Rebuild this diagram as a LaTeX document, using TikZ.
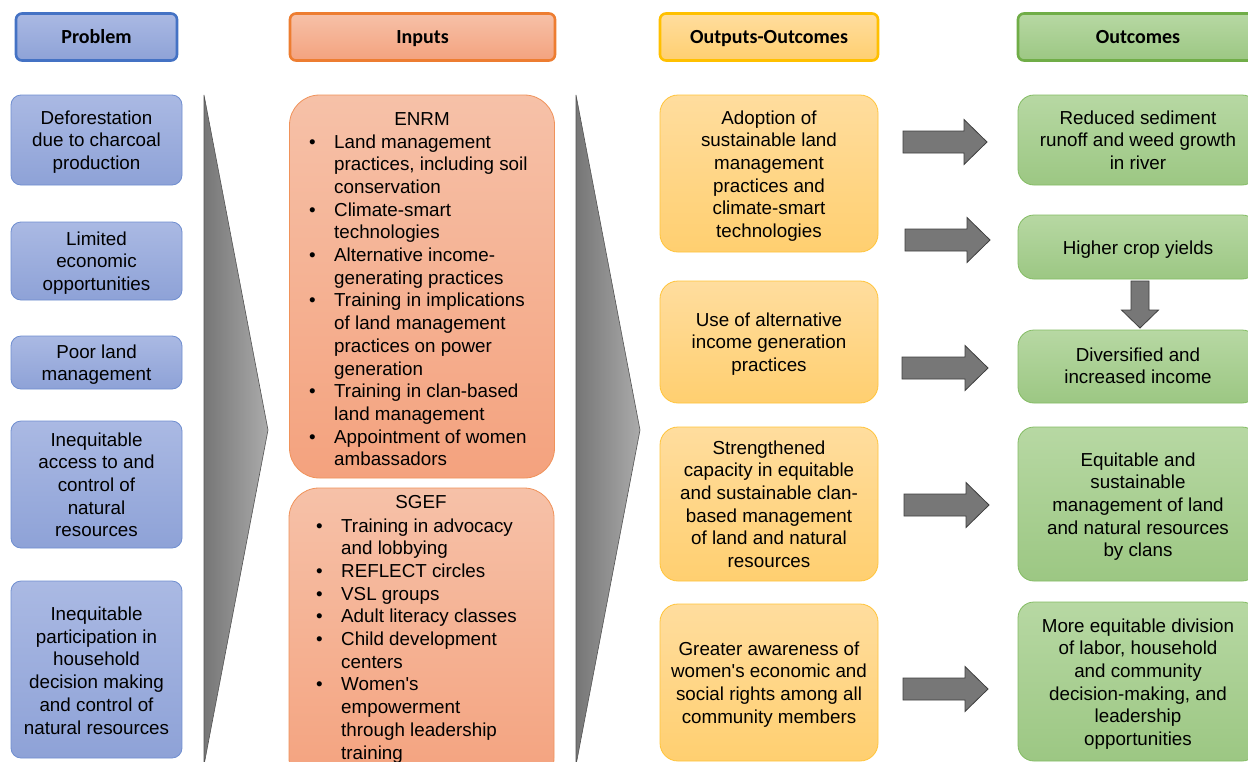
\documentclass[tikz,border=0pt]{standalone}
\usepackage{fontspec}
\setmainfont{Liberation Sans}
\newfontfamily\hdfont{Carlito}
\usetikzlibrary{calc}
\definecolor{pbT}{HTML}{AAB9E3}
\definecolor{pbB}{HTML}{8EA2D7}
\definecolor{pbD}{HTML}{6F8ED0}
\definecolor{pbH}{HTML}{4472C4}
\definecolor{inT}{HTML}{F6C1A8}
\definecolor{inB}{HTML}{F4A27E}
\definecolor{inD}{HTML}{F0925A}
\definecolor{inH}{HTML}{ED7D31}
\definecolor{ouT}{HTML}{FFDD9E}
\definecolor{ouB}{HTML}{FFCF70}
\definecolor{ouD}{HTML}{FFC43A}
\definecolor{ouH}{HTML}{FFC000}
\definecolor{ocT}{HTML}{B7D8A3}
\definecolor{ocB}{HTML}{9CC783}
\definecolor{ocD}{HTML}{84BC64}
\definecolor{ocH}{HTML}{70AD47}
\definecolor{arrG}{HTML}{777777}
\definecolor{arrD}{HTML}{3F3F3F}
\definecolor{chL}{HTML}{767676}
\definecolor{chR}{HTML}{ABABAB}
\newcommand\harrow[3]{%
  \draw[barrow] (#1,#3-11) -- (#2-23,#3-11) -- (#2-23,#3-22.5) -- (#2,#3)
    -- (#2-23,#3+22.5) -- (#2-23,#3+11) -- (#1,#3+11) -- cycle;}
\newcommand\bl[1]{\textbullet & #1}
\newcommand\apos{\textquotesingle}
\tikzset{
  box/.style={rectangle, inner sep=0pt, line width=0.8pt},
  pbox/.style={box, draw=pbD, top color=pbT, bottom color=pbB, rounded corners=10pt, minimum width=171pt},
  ibox/.style={box, draw=inD, top color=inT, bottom color=inB, rounded corners=30pt, minimum width=265pt},
  obox/.style={box, draw=ouD, top color=ouT, bottom color=ouB, rounded corners=18pt, minimum width=218pt},
  cbox/.style={box, draw=ocD, top color=ocT, bottom color=ocB, rounded corners=16pt, minimum width=240pt},
  hdr/.style={rectangle, line width=2.6pt, rounded corners=6pt, minimum height=47pt, inner sep=0pt,
     text height=15pt, text depth=2pt,
     font=\hdfont\bfseries\fontsize{20}{24}\selectfont},
  txt/.style={inner sep=0pt, anchor=base, font=\fontsize{18.8}{22.7}\selectfont, text=black},
  lst/.style={inner sep=0pt, anchor=base west, font=\fontsize{18.8}{22.7}\selectfont, text=black},
  barrow/.style={fill=arrG, draw=arrD, line width=0.8pt, line join=miter},
  chev/.style={left color=chL, right color=chR, draw=chL!70!black, line width=0.6pt}
}
\begin{document}
\begin{tikzpicture}[x=1pt,y=-1pt]
\useasboundingbox (0,0) rectangle (1248,761);
\clip (0,0) rectangle (1248,761);
\fill[white] (0,0) rectangle (1248,761);

% headers
\node[hdr, draw=pbH, top color=pbT, bottom color=pbB, minimum width=161pt] (hp) at (96.5,37) {Problem};
\node[hdr, draw=inH, top color=inT, bottom color=inB, minimum width=265pt] (hi) at (422.5,37) {Inputs};
\node[hdr, draw=ouH, top color=ouT, bottom color=ouB, minimum width=218pt] (ho) at (769,37) {Outputs-Outcomes};
\node[hdr, draw=ocH, top color=ocT, bottom color=ocB, minimum width=240pt] (hc) at (1138,37) {Outcomes};

% chevrons
\path[chev] (204,95) -- (268,430) -- (204,765) -- cycle;
\path[chev] (576,95) -- (640,430) -- (576,765) -- cycle;

% problem boxes
\node[pbox, minimum height=90pt] (p1) at (96.5,140) {};
\node[pbox, minimum height=78pt] (p2) at (96.5,261) {};
\node[pbox, minimum height=53pt] (p3) at (96.5,362.5) {};
\node[pbox, minimum height=127pt] (p4) at (96.5,484.5) {};
\node[pbox, minimum height=177pt] (p5) at (96.5,669.5) {};
\node[txt] (p1t) at (96.5,124) {\begin{tabular}[t]{@{}c@{}}Deforestation\\due to charcoal\\production\end{tabular}};
\node[txt] (p2t) at (96.5,245) {\begin{tabular}[t]{@{}c@{}}Limited\\economic\\opportunities\end{tabular}};
\node[txt] (p3t) at (96.5,358) {\begin{tabular}[t]{@{}c@{}}Poor land\\management\end{tabular}};
\node[txt] (p4t) at (96.5,446) {\begin{tabular}[t]{@{}c@{}}Inequitable\\access to and\\control of\\natural\\resources\end{tabular}};
\node[txt] (p5t) at (96.5,620.5) {\begin{tabular}[t]{@{}c@{}}Inequitable\\participation in\\household\\decision making\\and control of\\natural resources\end{tabular}};

% inputs boxes
\node[ibox, minimum height=383pt] (enrm) at (422,286.5) {};
\node[ibox, minimum height=300pt] (sgef) at (421.5,638) {};
\node[txt] (enrmt) at (422,125) {ENRM};
\node[lst] (enrml) at (309,148) {\begin{tabular}[t]{@{}p{25pt}@{}l@{}}
\bl{Land management}\\ & practices, including soil\\ & conservation\\
\bl{Climate-smart}\\ & technologies\\
\bl{Alternative income-}\\ & generating practices\\
\bl{Training in implications}\\ & of land management\\ & practices on power\\ & generation\\
\bl{Training in clan-based}\\ & land management\\
\bl{Appointment of women}\\ & ambassadors\end{tabular}};
\node[txt] (sgeft) at (421,508.5) {SGEF};
\node[lst] (sgefl) at (316,532) {\begin{tabular}[t]{@{}p{25pt}@{}l@{}}
\bl{Training in advocacy}\\ & and lobbying\\
\bl{REFLECT circles}\\
\bl{VSL groups}\\
\bl{Adult literacy classes}\\
\bl{Child development}\\ & centers\\
\bl{Women\apos s}\\ & empowerment\\ & through leadership\\ & training\end{tabular}};

% outputs boxes
\node[obox, minimum height=157pt] (o1) at (769,173.5) {};
\node[obox, minimum height=122pt] (o2) at (769,342) {};
\node[obox, minimum height=154pt] (o3) at (769,504) {};
\node[obox, minimum height=157pt] (o4) at (769,682.5) {};
\node[txt] (o1t) at (769,124) {\begin{tabular}[t]{@{}c@{}}Adoption of\\sustainable land\\management\\practices and\\climate-smart\\technologies\end{tabular}};
\node[txt] (o2t) at (769,326) {\begin{tabular}[t]{@{}c@{}}Use of alternative\\income generation\\practices\end{tabular}};
\node[txt] (o3t) at (769,454) {\begin{tabular}[t]{@{}c@{}}Strengthened\\capacity in equitable\\and sustainable clan-\\based management\\of land and natural\\resources\end{tabular}};
\node[txt] (o4t) at (769,655) {\begin{tabular}[t]{@{}c@{}}Greater awareness of\\women\apos s economic and\\social rights among all\\community members\end{tabular}};

% outcomes boxes
\node[cbox, minimum height=90pt] (c1) at (1138,140) {};
\node[cbox, minimum height=64pt] (c2) at (1138,247) {};
\node[cbox, minimum height=73pt] (c3) at (1138,366.5) {};
\node[cbox, minimum height=154pt] (c4) at (1138,504) {};
\node[cbox, minimum height=159pt] (c5) at (1138,681.5) {};
\node[txt] (c1t) at (1138,124) {\begin{tabular}[t]{@{}c@{}}Reduced sediment\\runoff and weed growth\\in river\end{tabular}};
\node[txt] (c2t) at (1138,254) {Higher crop yields};
\node[txt] (c3t) at (1138,361) {\begin{tabular}[t]{@{}c@{}}Diversified and\\increased income\end{tabular}};
\node[txt] (c4t) at (1138,466) {\begin{tabular}[t]{@{}c@{}}Equitable and\\sustainable\\management of land\\and natural resources\\by clans\end{tabular}};
\node[txt] (c5t) at (1138,632) {\begin{tabular}[t]{@{}c@{}}More equitable division\\of labor, household\\and community\\decision-making, and\\leadership\\opportunities\end{tabular}};

% block arrows
\harrow{903}{987}{142}
\harrow{905}{990}{240}
\harrow{902}{988}{368}
\harrow{904}{989}{505}
\harrow{903}{988}{689}
\draw[barrow] (1131,281) -- (1149,281) -- (1149,310) -- (1158.5,310) -- (1140,328)
  -- (1121.5,310) -- (1131,310) -- cycle;
\end{tikzpicture}
\end{document}
